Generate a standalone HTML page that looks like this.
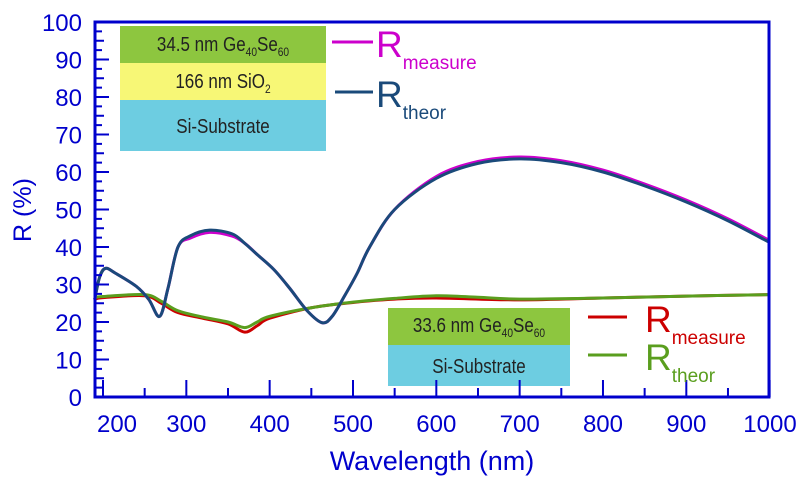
<!DOCTYPE html>
<html><head><meta charset="utf-8"><style>
body{margin:0;background:#fff}
svg{display:block;font-family:"Liberation Sans",sans-serif}
</style></head><body>
<svg id="s" width="800" height="486" viewBox="0 0 800 486" xmlns="http://www.w3.org/2000/svg">
<rect x="120" y="26" width="206" height="37" fill="#8dc63f"/>
<rect x="120" y="63" width="206" height="37" fill="#f7f776"/>
<rect x="120" y="100" width="206" height="51" fill="#6dcde1"/>
<g transform="translate(223 0) scale(0.85 1)">
<text x="0" y="51" font-size="20" text-anchor="middle" fill="#222">34.5 nm Ge<tspan font-size="12" dy="5">40</tspan><tspan dy="-5">Se</tspan><tspan font-size="12" dy="5">60</tspan></text>
<text x="0" y="88" font-size="20" text-anchor="middle" fill="#222">166 nm SiO<tspan font-size="12" dy="5">2</tspan></text>
<text x="0" y="133" font-size="20" text-anchor="middle" fill="#222">Si-Substrate</text>
</g>
<rect x="388" y="308" width="182" height="37" fill="#8dc63f"/>
<rect x="388" y="345" width="182" height="41" fill="#6dcde1"/>
<g transform="translate(479 0) scale(0.85 1)">
<text x="0" y="332" font-size="20" text-anchor="middle" fill="#222">33.6 nm Ge<tspan font-size="12" dy="5">40</tspan><tspan dy="-5">Se</tspan><tspan font-size="12" dy="5">60</tspan></text>
<text x="0" y="373" font-size="20" text-anchor="middle" fill="#222">Si-Substrate</text>
</g>
<g id="curves" fill="none" stroke-width="3" stroke-linejoin="round"></g>
<g id="axes" stroke="#0000cc" fill="none"></g>
<g fill="#0000cc" font-size="24" id="lbl"></g>
<text x="31" y="210" font-size="25" fill="#0000cc" text-anchor="middle" transform="rotate(-90 31 210)">R (%)</text>
<text x="432" y="470" font-size="27" fill="#0000cc" text-anchor="middle">Wavelength (nm)</text>
<line x1="332" y1="42" x2="373" y2="42" stroke="#cc00cc" stroke-width="3"/>
<text x="376" y="57" font-size="37" fill="#cc00cc">R<tspan font-size="19" dy="12">measure</tspan></text>
<line x1="335" y1="92" x2="373" y2="92" stroke="#1a4a7a" stroke-width="3"/>
<text x="376" y="107" font-size="37" fill="#1a4a7a">R<tspan font-size="19" dy="12">theor</tspan></text>
<line x1="588" y1="317" x2="627" y2="317" stroke="#cc0000" stroke-width="3"/>
<text x="645" y="332" font-size="37" fill="#cc0000">R<tspan font-size="19" dy="12">measure</tspan></text>
<line x1="588" y1="355" x2="627" y2="355" stroke="#5a9e1e" stroke-width="3"/>
<text x="645" y="370" font-size="37" fill="#5a9e1e">R<tspan font-size="19" dy="12">theor</tspan></text>
</svg>
<script>
const NS="http://www.w3.org/2000/svg";
const X=l=>103+(l-200)*0.8333, Y=r=>397-r*3.75;
function el(p,t,a){const e=document.createElementNS(NS,t);for(const k in a)e.setAttribute(k,a[k]);p.appendChild(e);return e}
function path(pts){const P=pts.map(([l,r])=>[X(l),Y(r)]);let d=`M${P[0][0]},${P[0][1]}`;
for(let i=0;i<P.length-1;i++){const p0=P[Math.max(i-1,0)],p1=P[i],p2=P[i+1],p3=P[Math.min(i+2,P.length-1)];
d+=` C${p1[0]+(p2[0]-p0[0])/6},${p1[1]+(p2[1]-p0[1])/6} ${p2[0]-(p3[0]-p1[0])/6},${p2[1]-(p3[1]-p1[1])/6} ${p2[0]},${p2[1]}`;}return d}
const blue=[[190,26],[196,32],[203,34.3],[215,33],[240,29.5],[255,26],[268,21.5],[278,29],[290,40],[305,43],[328,44.5],[355,43.5],[370,41],[385,38],[405,34],[424,29],[445,23],[463,19.8],[475,21.5],[490,27],[505,33],[520,40],[550,50],[600,58.3],[650,62.3],[700,63.5],[750,62.5],[800,60],[850,56.3],[900,52],[950,47],[1000,41.2]];
const mag=blue.map(([l,r])=>[l,r+(l>560?0.5:0)+(l>290&&l<360?-0.6:0)]);
const red=[[190,26],[200,26.5],[250,27],[270,25],[290,22.5],[320,21],[350,19.5],[370,17.3],[385,19],[400,21],[450,23.8],[500,25.2],[550,26.1],[600,26.4],[700,25.9],[800,26.4],[900,26.9],[1000,27.3]];
const grn=[[190,26.5],[200,26.8],[250,27.3],[270,25.5],[290,23],[320,21.3],[350,20],[370,18.5],[385,20],[400,21.5],[450,23.8],[500,25.3],[550,26.3],[600,27],[650,26.6],[700,26.1],[800,26.4],[900,26.9],[1000,27.3]];
const c=document.getElementById('curves');
[[red,'#cc0000'],[grn,'#5a9e1e'],[mag,'#cc00cc'],[blue,'#1a4a7a']].forEach(([d,col])=>el(c,'path',{d:path(d),stroke:col}));
const a=document.getElementById('axes'),L=document.getElementById('lbl');
el(a,'rect',{x:95,y:22,width:674,height:375,'stroke-width':3});
for(let r=0;r<=100;r+=2.5){const y=Y(r);const len=r%10==0?14:(r%5==0?9:7);el(a,'line',{x1:95,y1:y,x2:95+len,y2:y,'stroke-width':2});
if(r%10==0){const t=el(L,'text',{x:82,y:y+9,'text-anchor':'end'});t.textContent=r}}
for(let l=200;l<=1000;l+=50){const x=X(l);const len=l%100==0?17:9;el(a,'line',{x1:x,y1:397,x2:x,y2:397-len,'stroke-width':2});
if(l%100==0){const t=el(L,'text',{x:l==1000?770:(l==200?x+14:x),y:432,'text-anchor':'middle'});t.textContent=l}}
</script>
</body></html>
